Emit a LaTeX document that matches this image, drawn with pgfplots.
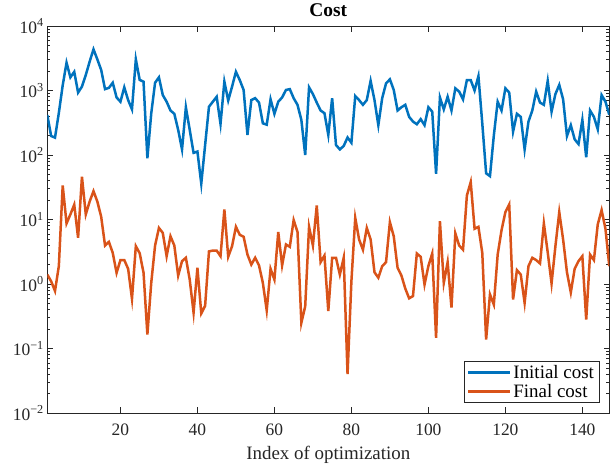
\documentclass[border=0pt]{standalone}
\usepackage{fontspec}
\setmainfont{Liberation Serif}
\usepackage{pgfplots}
\pgfplotsset{compat=1.18}

\definecolor{mblue}{rgb}{0,0.447,0.741}
\definecolor{morange}{rgb}{0.85,0.325,0.098}
\definecolor{axgray}{rgb}{0.15,0.15,0.15}

\begin{document}
\begin{tikzpicture}
\begin{axis}[
  scale only axis, width=562bp, height=387bp,
  at={(0,0)}, anchor=south west,
  ymode=log,
  xmin=1, xmax=147, ymin=1e-2, ymax=1e4,
  xtick={20,40,...,140},
  ytick={1e-2,1e-1,1,1e1,1e2,1e3,1e4},
  yticklabels={10\textsuperscript{−2},10\textsuperscript{−1},10\textsuperscript{0},10\textsuperscript{1},10\textsuperscript{2},10\textsuperscript{3},10\textsuperscript{4}},
  /pgf/number format/assume math mode=true,
  ticklabel style={font=\fontsize{17.5}{20}\selectfont, text=axgray},
  xticklabel style={yshift=-7bp},
  axis line style={axgray, line width=0.6bp},
  tick style={axgray, line width=0.6bp},
  major tick length=5.6bp, minor tick length=3bp,
  title={\textbf{Cost}},
  title style={font=\fontsize{19.5}{22}\selectfont, at={(0.5,1)}, anchor=south, yshift=0bp},
  xlabel={Index of optimization},
  xlabel style={font=\fontsize{19}{22}\selectfont, text=axgray, yshift=-4bp},
  legend style={at={(0.982,0.026)}, anchor=south east, draw=axgray, line width=0.6bp,
    font=\fontsize{19}{22}\selectfont, cells={anchor=west}, inner xsep=3bp, inner ysep=2bp, row sep=0bp},
  legend image code/.code={\draw[#1] (0bp,0bp) -- (42bp,0bp);},
]
\addplot[mblue, line width=2.5bp] coordinates {
(1,417) (2,197) (3,186) (4,450) (5,1200) (6,2700) (7,1600) (8,1950) (9,930) (10,1150)
(11,1740) (12,2800) (13,4350) (14,3040) (15,2080) (16,1050) (17,1100) (18,1320) (19,780) (20,670)
(21,1120) (22,710) (23,510) (24,3040) (25,1460) (26,1370) (27,89) (28,440) (29,1320) (30,1600)
(31,850) (32,670) (33,490) (34,435) (35,245) (36,122) (37,550) (38,245) (39,108) (40,113)
(41,36) (42,143) (43,560) (44,670) (45,800) (46,303) (47,1370) (48,700) (49,1150) (50,1950)
(51,1450) (52,1020) (53,205) (54,710) (55,760) (56,650) (57,310) (58,295) (59,730) (60,435)
(61,670) (62,780) (63,1020) (64,1050) (65,760) (66,600) (67,350) (68,100) (69,1120) (70,880)
(71,650) (72,490) (73,445) (74,205) (75,760) (76,143) (77,122) (78,138) (79,187) (80,155)
(81,820) (82,710) (83,600) (84,710) (85,1410) (86,710) (87,290) (88,760) (89,1290) (90,1490)
(91,1020) (92,490) (93,550) (94,600) (95,390) (96,330) (97,300) (98,360) (99,290) (100,550)
(101,470) (102,51) (103,780) (104,510) (105,800) (106,490) (107,1080) (108,960) (109,730) (110,1450)
(111,1450) (112,1000) (113,1670) (114,310) (115,52) (116,47) (117,200) (118,670) (119,490) (120,1080)
(121,930) (122,230) (123,435) (124,390) (125,122) (126,330) (127,490) (128,960) (129,650) (130,600)
(131,1410) (132,470) (133,880) (134,1220) (135,730) (136,197) (137,290) (138,175) (139,148) (140,350)
(141,92) (142,490) (143,390) (144,250) (145,850) (146,670) (147,420)
};
\addlegendentry{Initial cost}
\addplot[morange, line width=2.5bp] coordinates {
(1,1.4) (2,1.1) (3,0.78) (4,1.9) (5,33.7) (6,8.7) (7,12) (8,17) (9,5.2) (10,46)
(11,12) (12,19) (13,27.5) (14,19) (15,11) (16,3.95) (17,4.5) (18,3.04) (19,1.49) (20,2.35)
(21,2.35) (22,1.72) (23,0.59) (24,3.86) (25,3.0) (26,1.5) (27,0.165) (28,1.04) (29,3.95) (30,7.4)
(31,6.2) (32,2.7) (33,5.5) (34,3.95) (35,1.35) (36,2.26) (37,2.55) (38,1.17) (39,0.36) (40,1.78)
(41,0.35) (42,0.46) (43,3.2) (44,3.3) (45,3.3) (46,2.7) (47,14.3) (48,2.65) (49,3.86) (50,7.7)
(51,5.8) (52,5.4) (53,2.86) (54,2.0) (55,2.55) (56,1.94) (57,1.04) (58,0.39) (59,1.72) (60,1.17)
(61,6.4) (62,1.94) (63,4.1) (64,3.77) (65,9.8) (66,6.4) (67,0.25) (68,0.45) (69,7.7) (70,3.95)
(71,16.5) (72,2.18) (73,2.76) (74,0.38) (75,2.55) (76,2.55) (77,1.4) (78,2.55) (79,0.04) (80,1.1)
(81,10.6) (82,4.9) (83,3.4) (84,7.4) (85,4.9) (86,1.52) (87,1.25) (88,1.89) (89,2.18) (90,9.1)
(91,5.5) (92,1.78) (93,1.35) (94,0.85) (95,0.6) (96,0.65) (97,2.97) (98,2.64) (99,0.98) (100,1.9)
(101,2.97) (102,0.146) (103,9.4) (104,1.04) (105,2.18) (106,0.43) (107,6.1) (108,3.95) (109,3.4) (110,23.5)
(111,38) (112,7.2) (113,7.7) (114,3.04) (115,0.138) (116,0.69) (117,0.48) (118,2.86) (119,6.8) (120,13)
(121,17.1) (122,0.575) (123,1.64) (124,1.4) (125,0.51) (126,1.89) (127,2.55) (128,2.35) (129,2.08) (130,8.7)
(131,3.1) (132,1.02) (133,3.86) (134,13) (135,4.9) (136,1.52) (137,0.74) (138,1.72) (139,2.26) (140,2.7)
(141,0.28) (142,2.86) (143,2.35) (144,8.4) (145,14) (146,7.2) (147,1.89)
};
\addlegendentry{Final cost}
\end{axis}
\pgfresetboundingbox
\path[use as bounding box] (-47.3bp,-54bp) rectangle (568.7bp,413bp);
\end{tikzpicture}
\end{document}
